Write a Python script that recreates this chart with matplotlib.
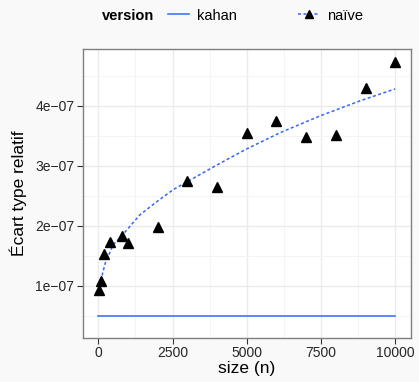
import matplotlib
matplotlib.use("Agg")
import matplotlib.pyplot as plt
from matplotlib.lines import Line2D

plt.rcParams['font.family'] = ['Liberation Sans', 'DejaVu Sans']

# measured points (naive summation)
sizes = [10, 100, 200, 400, 800, 1000, 2000, 3000, 4000, 5000, 6000, 7000, 8000, 9000, 10000]
naive = [0.93e-7, 1.08e-7, 1.52e-7, 1.72e-7, 1.83e-7, 1.71e-7, 1.97e-7, 2.74e-7,
         2.65e-7, 3.54e-7, 3.75e-7, 3.47e-7, 3.51e-7, 4.29e-7, 4.73e-7]

# smoothed curves
smooth_x = [0, 60, 230, 500, 840, 1400, 1970, 2520, 3090, 4100, 5000, 6120, 7470, 8810, 10000]
naive_smooth = [1.00e-7, 1.04e-7, 1.37e-7, 1.68e-7, 1.86e-7, 2.18e-7, 2.40e-7, 2.60e-7,
                2.76e-7, 3.04e-7, 3.28e-7, 3.55e-7, 3.83e-7, 4.08e-7, 4.28e-7]
kahan_x = [0, 10000]
kahan_smooth = [5.0e-8, 5.0e-8]

xticks = [0, 2500, 5000, 7500, 10000]
yticks = [1e-7, 2e-7, 3e-7, 4e-7]
ytick_labels = ['1e\u221207', '2e\u221207', '3e\u221207', '4e\u221207']

blue = '#3366FF'
bg = '#f9f9f9'
dash = (0, (2, 1.6))

fig = plt.figure(figsize=(4.19, 3.82), dpi=100, facecolor=bg)
ax = fig.add_axes([0.1974, 0.116, 0.7826, 0.7557])
ax.set_facecolor('white')

ax.set_xlim(-525, 10518)
ax.set_ylim(1.33e-8, 4.945e-7)

# grid like theme_bw
ax.set_xticks(xticks)
ax.set_yticks(yticks)
ax.set_xticks([1250, 3750, 6250, 8750], minor=True)
ax.set_yticks([0.5e-7, 1.5e-7, 2.5e-7, 3.5e-7, 4.5e-7], minor=True)
ax.grid(which='major', color='#ebebeb', linewidth=1.0)
ax.grid(which='minor', color='#f4f4f4', linewidth=0.7)
ax.set_axisbelow(True)
ax.tick_params(which='minor', length=0)
ax.tick_params(which='major', direction='out', length=4, width=0.8, color='#333333',
               labelsize=10, labelcolor='#262626', pad=2)
ax.set_xticklabels([str(t) for t in xticks])
ax.set_yticklabels(ytick_labels)
for s in ax.spines.values():
    s.set_color('#7f7f7f')
    s.set_linewidth(1.0)

ax.plot(kahan_x, kahan_smooth, color=blue, linewidth=1.1, zorder=3)
ax.plot(smooth_x, naive_smooth, color=blue, linewidth=1.1, linestyle=dash, zorder=3)
ax.plot(sizes, naive, linestyle='none', marker='^', markersize=6.5, color='black', zorder=4)

ax.set_xlabel('size (n)', fontsize=12.5, labelpad=1)
ax.set_ylabel('\u00c9cart type relatif', fontsize=12.5, labelpad=6)

# legend on top
ly = 1 - 15.5 / 382
fig.text(101.5 / 419, ly, 'version', fontsize=10.5, fontweight='bold', va='center', ha='left')
h_kahan = Line2D([], [], color=blue, linewidth=1.1)
h_naive = Line2D([], [], color=blue, linewidth=1.1, linestyle=dash,
                 marker='^', markersize=6, markerfacecolor='black', markeredgecolor='black')
for h, lab, x0 in [(h_kahan, 'kahan', 168), (h_naive, 'na\u00efve', 298)]:
    fig.legend([h], [lab], loc='center left', bbox_to_anchor=(x0 / 419, ly),
               frameon=False, fontsize=10.5, handlelength=1.45, handletextpad=0.55,
               borderaxespad=0, borderpad=0)

fig.savefig('out.png', dpi=100, facecolor=bg)
